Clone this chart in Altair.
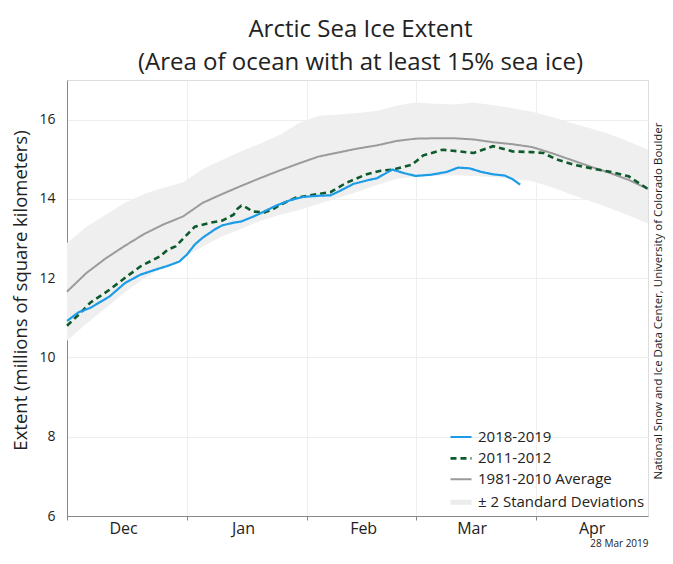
import altair as alt
import pandas as pd

START = pd.Timestamp("2018-12-01")

title_lines = ["Arctic Sea Ice Extent", "(Area of ocean with at least 15% sea ice)"]
y_title = "Extent (millions of square kilometers)"
credit = "National Snow and Ice Data Center, University of Colorado Boulder"
date_label = "28 Mar 2019"

series_names = ["2018-2019", "2011-2012", "1981-2010 Average", "± 2 Standard Deviations"]
series_colors = ["#1c9be6", "#0d5a2c", "#9b9b9b", "#ececec"]
series_dashes = [[1, 0], [6, 4], [1, 0], [1, 0]]
series_widths = [2.2, 2.6, 2.0, 5.0]

y_ticks = [6, 8, 10, 12, 14, 16]

# days since 1 Dec 2018
blue_days = [0, 3, 6, 11, 15, 19, 23, 26, 29, 31, 33, 35, 38, 40, 43, 45, 48, 50, 54, 58,
             61, 65, 68, 70, 74, 78, 80, 84, 87, 90, 94, 98, 101, 104, 107, 110, 113, 115, 117]
blue_vals = [10.92, 11.14, 11.25, 11.54, 11.88, 12.09, 12.22, 12.31, 12.42, 12.60, 12.85, 13.02,
             13.22, 13.33, 13.40, 13.43, 13.55, 13.64, 13.83, 13.98, 14.05, 14.08, 14.09, 14.18,
             14.38, 14.48, 14.52, 14.74, 14.65, 14.58, 14.61, 14.68, 14.79, 14.77, 14.68, 14.62,
             14.59, 14.50, 14.36]

green_days = [0, 3, 6, 11, 15, 19, 24, 26, 28, 31, 33, 37, 40, 43, 44, 45, 46, 48, 51, 53, 55,
              57, 59, 64, 68, 72, 77, 81, 84, 89, 92, 97, 101, 105, 110, 115, 120, 123, 126, 131,
              137, 141, 145, 150]
green_vals = [10.80, 11.08, 11.38, 11.71, 12.01, 12.30, 12.55, 12.72, 12.80, 13.10, 13.30, 13.40,
              13.45, 13.60, 13.75, 13.83, 13.80, 13.68, 13.66, 13.73, 13.85, 13.94, 14.03, 14.11,
              14.17, 14.40, 14.61, 14.71, 14.74, 14.86, 15.10, 15.24, 15.20, 15.16, 15.33, 15.20,
              15.18, 15.16, 15.01, 14.86, 14.74, 14.67, 14.57, 14.25]

grid_days = [0, 5, 10, 15, 20, 25, 30, 35, 40, 45, 50, 55, 60, 65, 70, 75, 80, 85, 90, 95, 100,
             105, 110, 115, 120, 125, 130, 135, 140, 145, 150]
avg_vals = [11.66, 12.13, 12.50, 12.82, 13.12, 13.36, 13.56, 13.90, 14.12, 14.33, 14.53, 14.72,
            14.90, 15.07, 15.17, 15.27, 15.35, 15.46, 15.52, 15.53, 15.53, 15.50, 15.43, 15.38,
            15.31, 15.16, 14.99, 14.82, 14.66, 14.48, 14.25]
band_upper = [12.89, 13.30, 13.60, 13.90, 14.13, 14.28, 14.42, 14.75, 14.98, 15.20, 15.40, 15.62,
              15.92, 16.10, 16.13, 16.17, 16.22, 16.35, 16.43, 16.40, 16.38, 16.43, 16.36, 16.29,
              16.20, 16.07, 15.92, 15.78, 15.64, 15.45, 15.24]
band_lower = [10.42, 10.85, 11.25, 11.65, 12.00, 12.28, 12.52, 12.80, 13.05, 13.25, 13.45, 13.60,
              13.72, 13.88, 14.02, 14.18, 14.35, 14.50, 14.56, 14.58, 14.60, 14.58, 14.55, 14.50,
              14.45, 14.30, 14.12, 13.95, 13.77, 13.58, 13.38]


def to_dates(days):
    return [START + pd.Timedelta(days=d) for d in days]


blue_df = pd.DataFrame({"date": to_dates(blue_days), "value": blue_vals, "series": series_names[0]})
green_df = pd.DataFrame({"date": to_dates(green_days), "value": green_vals, "series": series_names[1]})
avg_df = pd.DataFrame({"date": to_dates(grid_days), "value": avg_vals, "series": series_names[2]})
band_df = pd.DataFrame({"date": to_dates(grid_days), "value": band_lower, "value2": band_upper})
credit_df = pd.DataFrame({"t": [credit]})

FONT = "Open Sans"
TXT = "#222222"

month_ticks = [
    alt.DateTime(year=2018, month=12, date=1),
    alt.DateTime(year=2019, month=1, date=1),
    alt.DateTime(year=2019, month=2, date=1),
    alt.DateTime(year=2019, month=3, date=1),
    alt.DateTime(year=2019, month=4, date=1),
]

X = alt.X(
    "date:T",
    scale=alt.Scale(domain=[alt.DateTime(year=2018, month=12, date=1),
                            alt.DateTime(year=2019, month=4, date=30)]),
    axis=alt.Axis(
        values=month_ticks, format="%b", labelOffset=56, labelFontSize=16, labelFont=FONT,
        labelColor=TXT, tickSize=4, tickColor="#888888", domainColor="#888888",
        gridColor="#eeeeee", grid=True, labelPadding=0, labelOverlap=False, labelFlush=False,
        title=date_label, titleFont=FONT, titleFontSize=10, titleFontWeight="normal",
        titleColor=TXT, titleX=581, titleY=30, titleAlign="right", titleBaseline="alphabetic",
    ),
)
Y = alt.Y(
    "value:Q",
    scale=alt.Scale(domain=[6, 17]),
    axis=alt.Axis(
        values=y_ticks, labelFontSize=14, labelFont=FONT, labelColor=TXT, ticks=False,
        tickSize=0, labelPadding=12, domainColor="#888888", gridColor="#eeeeee",
        title=y_title, titleFont=FONT, titleFontSize=18.5, titleFontWeight="normal",
        titleColor=TXT, titleX=-47, titleY=210, titleBaseline="middle",
    ),
)

leg = alt.Legend(
    orient="none", legendX=381, legendY=345, title=None, symbolType="stroke", symbolSize=441,
    labelFontSize=15, labelFont=FONT, labelColor=TXT, labelOffset=4, rowPadding=1.4, padding=0,
    labelLimit=400,
)
C = alt.Color("series:N", scale=alt.Scale(domain=series_names, range=series_colors), legend=leg)
D = alt.StrokeDash("series:N", scale=alt.Scale(domain=series_names, range=series_dashes), legend=leg)
W = alt.StrokeWidth("series:N", scale=alt.Scale(type="ordinal", domain=series_names, range=series_widths), legend=leg)

band = alt.Chart(band_df).mark_area(color="#efefef").encode(x=X, y=Y, y2="value2:Q")
avg = alt.Chart(avg_df).mark_line().encode(x=X, y=Y, color=C, strokeDash=D, strokeWidth=W)
green = alt.Chart(green_df).mark_line().encode(x=X, y=Y, color=C, strokeDash=D, strokeWidth=W)
blue = alt.Chart(blue_df).mark_line().encode(x=X, y=Y, color=C, strokeDash=D, strokeWidth=W)
credit_txt = alt.Chart(credit_df).mark_text(
    angle=270, fontSize=11.5, font=FONT, color=TXT, baseline="alphabetic", align="center"
).encode(x=alt.value(595), y=alt.value(221), text="t:N")

chart = alt.layer(band, avg, green, blue, credit_txt).properties(
    width=581,
    height=436,
    autosize=alt.AutoSizeParams(type="none"),
    padding={"left": 59, "top": 72, "right": 17, "bottom": 38},
    title=alt.TitleParams(text=title_lines, fontSize=24, font=FONT, fontWeight="normal",
                          color=TXT, lineHeight=33, anchor="middle", offset=5, dx=3),
).configure_view(stroke="transparent").configure(background="white")

chart.save("out.html", embed_options={"renderer": "svg", "actions": False})
